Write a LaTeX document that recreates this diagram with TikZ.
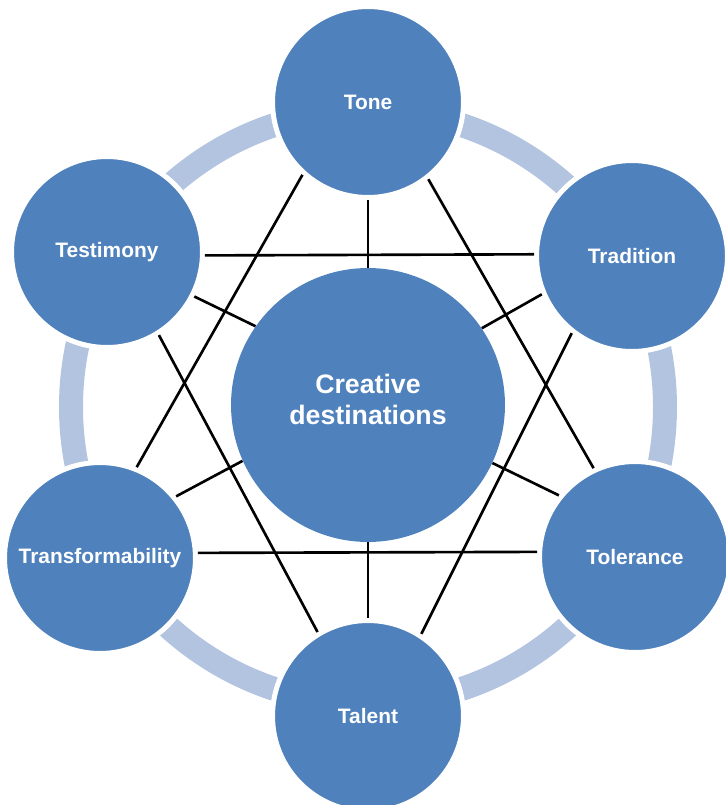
\documentclass[tikz,border=0pt]{standalone}
\usepackage{fontspec}
\setmainfont{Liberation Sans}
\definecolor{nodeblue}{HTML}{4F81BD}
\definecolor{ringblue}{HTML}{B3C4E0}
\tikzset{
  hub/.style={circle, fill=nodeblue, minimum size=5.48cm, inner sep=0pt, align=center, text depth=0.24cm, text=white, font=\bfseries\fontsize{15.2}{17.6}\selectfont},
  petal/.style={circle, fill=nodeblue, draw=white, line width=0.1cm, minimum size=3.82cm, inner sep=0pt, text=white, font=\bfseries\fontsize{11.9}{14}\selectfont},
  link/.style={black, line width=1.5pt}
}
\begin{document}
\begin{tikzpicture}[x=0.02cm, y=-0.02cm]
                    \useasboundingbox (0,0) rectangle (726,805);
                    % ring behind the outer circles
                    \draw[ringblue, line width=0.48cm] (368,407) circle (297);
                    \node[hub] (dest) at (368,405) {Creative\\destinations};
                    \node[petal] (tone) at (368,102) {Tone};
                    \node[petal] (tradition) at (632,256) {Tradition};
                    \node[petal] (tolerance) at (635,557) {Tolerance};
                    \node[petal] (talent) at (368,716) {Talent};
                    \node[petal] (transf) at (100,558) {Transformability};
                    \node[petal] (testimony) at (107,252) {Testimony};
                    % first triangle
                    \draw[link] (tone.228) -- (transf.68);
                    \draw[link] (tone.308) -- (tolerance.115);
                    \draw[link] (transf.3) -- (tolerance.177);
                    % second triangle
                    \draw[link] (testimony.-2) -- (tradition.179);
                    \draw[link] (testimony.-58) -- (talent.121);
                    \draw[link] (tradition.232) -- (talent.57);
                    % spokes
                    \draw[link] (dest.north) -- (tone.south);
                    \draw[link] (dest.south) -- (talent.north);
                    \draw[link] (dest.145) -- (testimony.-27);
                    \draw[link] (dest.34) -- (tradition.203);
                    \draw[link] (dest.204) -- (transf.39);
                    \draw[link] (dest.-25) -- (tolerance.141);
\end{tikzpicture}
\end{document}
